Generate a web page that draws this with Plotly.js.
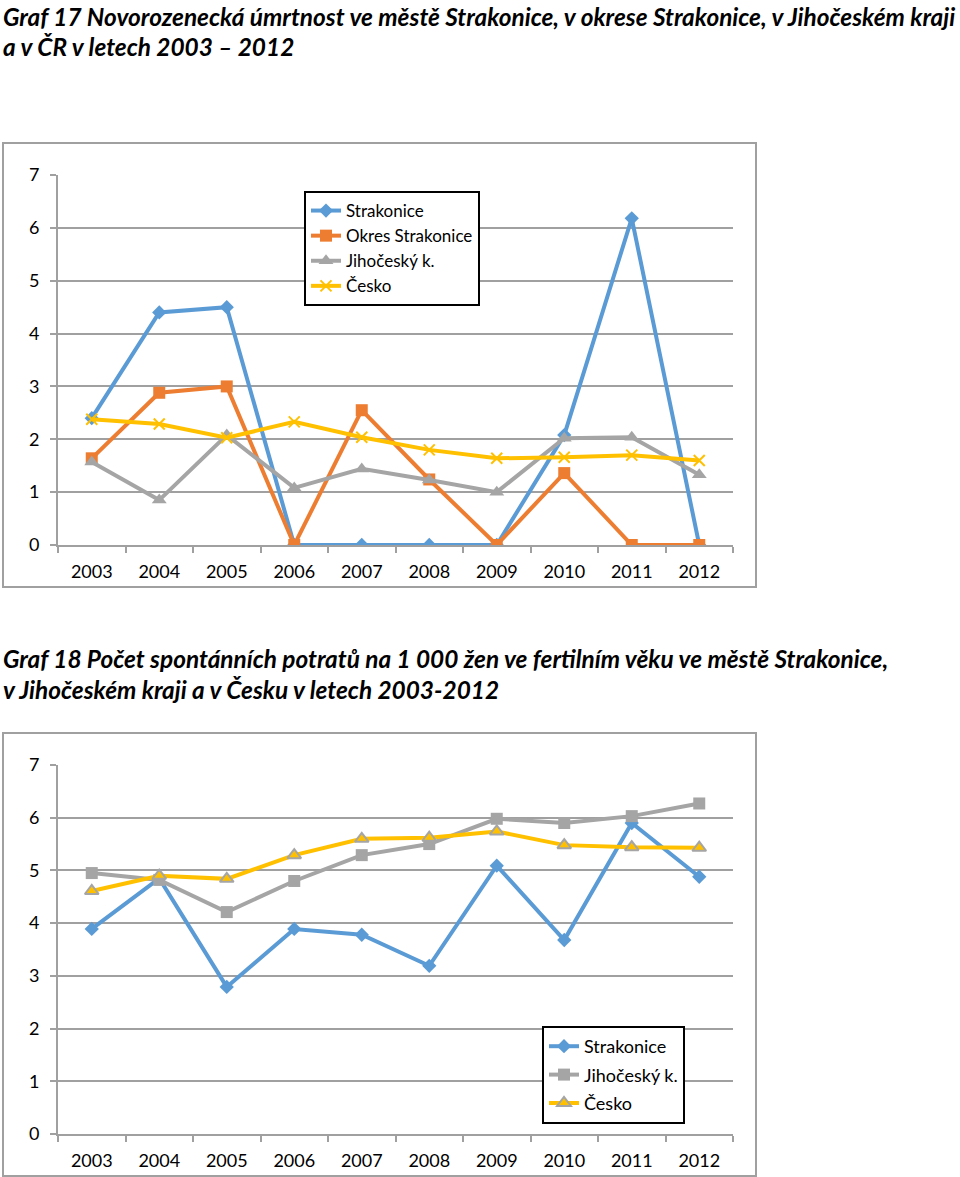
<!DOCTYPE html>
<html>
<head>
<meta charset="utf-8">
<script src="https://cdn.plot.ly/plotly-3.0.1.min.js"></script>
<style>
html,body{margin:0;padding:0;background:#fff;}
#chart{width:960px;height:1177px;}
</style>
</head>
<body>
<div id="chart"></div>
<script>
// ---- Data ----
const years = ["2003","2004","2005","2006","2007","2008","2009","2010","2011","2012"];
const yTicks = [0,1,2,3,4,5,6,7];

// Graf 17 – novorozenecká úmrtnost
const g17_strakonice = [2.40, 4.40, 4.50, 0, 0, 0, 0, 2.08, 6.18, 0];
const g17_okres      = [1.64, 2.88, 3.00, 0, 2.55, 1.24, 0, 1.36, 0, 0];
const g17_jihocesky  = [1.57, 0.85, 2.08, 1.08, 1.44, 1.23, 1.00, 2.02, 2.04, 1.33];
const g17_cesko      = [2.38, 2.29, 2.03, 2.33, 2.04, 1.80, 1.64, 1.66, 1.70, 1.60];

// Graf 18 – spontánní potraty na 1 000 žen
const g18_strakonice = [3.89, 4.85, 2.79, 3.89, 3.78, 3.19, 5.09, 3.68, 5.90, 4.88];
const g18_jihocesky  = [4.95, 4.82, 4.21, 4.80, 5.29, 5.50, 5.98, 5.90, 6.03, 6.27];
const g18_cesko      = [4.61, 4.90, 4.84, 5.29, 5.60, 5.62, 5.74, 5.48, 5.44, 5.43];

const names17 = ["Strakonice","Okres Strakonice","Jihočeský k.","Česko"];
const names18 = ["Strakonice","Jihočeský k.","Česko"];

const title17 = ["Graf 17 Novorozenecká úmrtnost ve městě Strakonice, v okrese Strakonice, v Jihočeském kraji","a v ČR v letech 2003 – 2012"];
const title18 = ["Graf 18 Počet spontánních potratů na 1 000 žen ve fertilním věku ve městě Strakonice,","v Jihočeském kraji a v Česku v letech 2003-2012"];

// ---- Styling ----
const W = 960, H = 1177;
const px = v => v / W;
const py = v => 1 - v / H;
const BLUE = "#5B9BD5", ORANGE = "#ED7D31", GRAY = "#A5A5A5", YELLOW = "#FFC000";
const GRID = "#a0a0a0";
const FONT = "Lato, 'Open Sans', sans-serif";

function line(x, y, name, color, marker, xa, ya, legend, group) {
  return {
    type: "scatter", mode: "lines+markers", x: x, y: y, name: name,
    xaxis: xa, yaxis: ya, legend: legend, legendgroup: group,
    line: {color: color, width: 4},
    marker: marker, hoverinfo: "x+y+name"
  };
}

const traces = [
  line(years, g17_strakonice, names17[0], BLUE,   {symbol: "diamond", size: 11, color: BLUE}, "x", "y", "legend", "a1"),
  line(years, g17_okres,      names17[1], ORANGE, {symbol: "square", size: 12, color: ORANGE}, "x", "y", "legend", "a2"),
  line(years, g17_jihocesky,  names17[2], GRAY,   {symbol: "triangle-up", size: 13, color: GRAY}, "x", "y", "legend", "a3"),
  line(years, g17_cesko,      names17[3], YELLOW, {symbol: "x-thin", size: 11, color: YELLOW, line: {color: YELLOW, width: 2}}, "x", "y", "legend", "a4"),
  line(years, g18_strakonice, names18[0], BLUE,   {symbol: "diamond", size: 11, color: BLUE}, "x2", "y2", "legend2", "b1"),
  line(years, g18_jihocesky,  names18[1], GRAY,   {symbol: "square", size: 12, color: GRAY}, "x2", "y2", "legend2", "b2"),
  line(years, g18_cesko,      names18[2], YELLOW, {symbol: "triangle-up", size: 12, color: YELLOW, line: {color: GRAY, width: 2}}, "x2", "y2", "legend2", "b3")
];

function xaxis(anchor) {
  return {
    domain: [px(58), px(733)], anchor: anchor, type: "category",
    categoryorder: "array", categoryarray: years, range: [-0.5, years.length - 0.5],
    showgrid: false, zeroline: false, showline: true, linecolor: GRID, linewidth: 2,
    ticks: "outside", tickson: "boundaries", ticklen: 6, tickwidth: 2, tickcolor: GRID,
    ticklabelstandoff: 9,
    tickfont: {family: FONT, size: 18, color: "#000"}, fixedrange: true
  };
}
function yaxis(anchor, d0, d1) {
  return {
    domain: [py(d0), py(d1)], anchor: anchor, range: [0, 7],
    tickvals: yTicks, ticktext: yTicks.map(String),
    showgrid: true, gridcolor: GRID, gridwidth: 2, zeroline: false,
    showline: true, linecolor: GRID, linewidth: 2,
    ticks: "outside", ticklen: 6, tickwidth: 2, tickcolor: GRID,
    ticklabelstandoff: 7,
    tickfont: {family: FONT, size: 18, color: "#000"}, fixedrange: true
  };
}

const titleFont = {family: FONT, size: 24.4, color: "#000"};
function titleAnn(text, y) {
  return {text: "<b><i>" + text + "</i></b>", xref: "paper", yref: "paper",
    x: px(1), y: py(y), xanchor: "left", yanchor: "middle", showarrow: false, font: titleFont};
}

const layout = {
  width: W, height: H, margin: {l: 0, r: 0, t: 0, b: 0},
  paper_bgcolor: "#fff", plot_bgcolor: "#fff", showlegend: true,
  font: {family: FONT, size: 17, color: "#000"},
  xaxis: xaxis("y"), yaxis: yaxis("x", 545, 175),
  xaxis2: xaxis("y2"), yaxis2: yaxis("x2", 1134, 765),
  legend: {
    x: px(304), y: py(191), xanchor: "left", yanchor: "top",
    bgcolor: "#fff", bordercolor: "#000", borderwidth: 2,
    font: {family: FONT, size: 17, color: "#000"}, tracegroupgap: 0, itemclick: false
  },
  legend2: {
    x: px(542), y: py(1026), xanchor: "left", yanchor: "top",
    bgcolor: "#fff", bordercolor: "#000", borderwidth: 2,
    font: {family: FONT, size: 18, color: "#000"}, tracegroupgap: 2, itemclick: false
  },
  shapes: [
    {type: "rect", xref: "paper", yref: "paper", x0: px(3), x1: px(756), y0: py(587), y1: py(143),
     line: {color: GRID, width: 2}, layer: "below"},
    {type: "rect", xref: "paper", yref: "paper", x0: px(3), x1: px(756), y0: py(1176), y1: py(733),
     line: {color: GRID, width: 2}, layer: "below"}
  ],
  annotations: [
    titleAnn(title17[0], 16), titleAnn(title17[1], 47),
    titleAnn(title18[0], 658), titleAnn(title18[1], 689)
  ]
};

Plotly.newPlot("chart", traces, layout, {displayModeBar: false});
</script>
</body>
</html>
